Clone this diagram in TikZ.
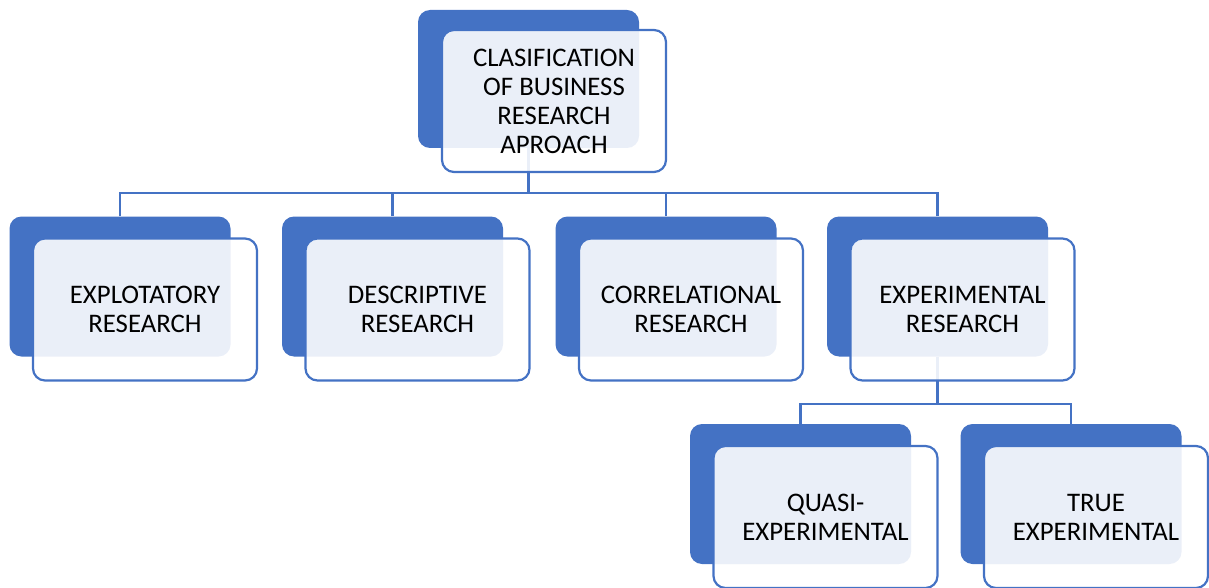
\documentclass[tikz,border=0pt]{standalone}
\usepackage{fontspec}
\setmainfont{Carlito}
\definecolor{cblue}{HTML}{4472C4}
\begin{document}
\begin{tikzpicture}[x=1pt,y=-1pt,
  back/.style={rectangle, rounded corners=12pt, fill=cblue, inner sep=0pt,
    minimum width=221pt, minimum height=140pt},
  front/.style={rectangle, rounded corners=12pt, draw=cblue, line width=2.2pt,
    fill=white, fill opacity=0.89, text opacity=1, text=black, inner sep=0pt,
    minimum width=224pt, minimum height=142pt, align=center,
    font=\fontsize{26.8}{29}\selectfont},
  link/.style={draw=cblue, line width=2.2pt}]
\useasboundingbox (0,0) rectangle (1209,588);

% back panels
\node[back, minimum height=138pt] (b0) at (528.5,79) {};
\node[back] (b1) at (120,286.5) {};
\node[back] (b2) at (392.5,286.5) {};
\node[back] (b3) at (666,286.5) {};
\node[back] (b4) at (937.5,286.5) {};
\node[back] (b5) at (800.5,494) {};
\node[back] (b6) at (1071,494) {};

% connectors
\coordinate (j0) at (528.5,193);
\coordinate (j4) at (937.5,404);
\draw[link] (b0.south) -- (j0);
\draw[link] (b1.north) |- (j0);
\draw[link] (b2.north) |- (j0);
\draw[link] (b3.north) |- (j0);
\draw[link] (b4.north) |- (j0);
\draw[link] (b4.south) -- (j4);
\draw[link] (b5.north) |- (j4);
\draw[link] (b6.north) |- (j4);

% front panels with labels
\node[front] (f0) at (554,101) {CLASIFICATION\\OF BUSINESS\\RESEARCH\\APROACH};
\node[front] (f1) at (145,309.5) {EXPLOTATORY\\RESEARCH};
\node[front] (f2) at (417.5,309.5) {DESCRIPTIVE\\RESEARCH};
\node[front] (f3) at (691,309.5) {CORRELATIONAL\\RESEARCH};
\node[front] (f4) at (962.5,309.5) {EXPERIMENTAL\\RESEARCH};
\node[front] (f5) at (825.5,517) {QUASI-\\EXPERIMENTAL};
\node[front] (f6) at (1096,517) {TRUE\\EXPERIMENTAL};
\end{tikzpicture}
\end{document}
